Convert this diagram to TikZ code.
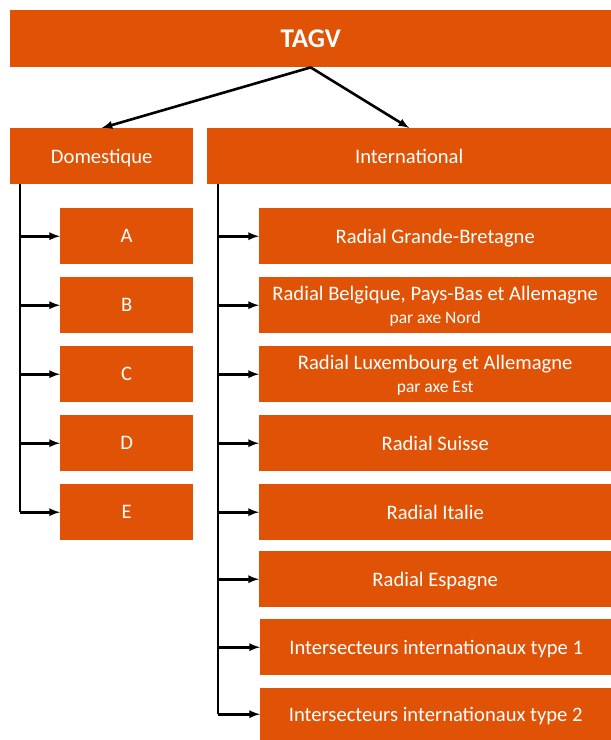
\documentclass[tikz,border=0pt]{standalone}
\usepackage{fontspec}
\setmainfont{Carlito}
\definecolor{TagvOrange}{RGB}{224,83,6}
\usetikzlibrary{positioning,arrows}
\tikzset{>=latex}
\tikzset{catbox/.style={fill=TagvOrange,text=white,inner sep=0pt,text depth=0pt,align=center,anchor=north west,font=\fontsize{20.6}{23}\selectfont}}
\tikzset{domnode/.style={catbox,minimum width=133,minimum height=56}}
\tikzset{intnode/.style={catbox,minimum width=352,minimum height=56}}
\tikzset{twolines/.style={text depth=-5pt}}
\tikzset{links/.style={line width=2.6pt,black}}
\newcommand{\subline}[1]{\\[0pt]{\fontsize{17.5}{19}\selectfont #1}}

\begin{document}
\begin{tikzpicture}[x=1pt,y=-1pt]
    \useasboundingbox (0,0) rectangle (611,740);

    \node[catbox, minimum width=601, minimum height=57, font=\bfseries\fontsize{27}{30}\selectfont] (tagv) at (10,10) {TAGV};
    \node[catbox, minimum width=183, minimum height=56] (dom) at (10,128) {Domestique};
    \node[catbox, minimum width=404, minimum height=56] (intl) at (207,128) {International};

    % domestique
    \foreach \n/\y in {A/208, B/277, C/346, D/415, E/484} {
        \node[domnode] (\n) at (60,\y) {\n};
    }

    % international
    \node[intnode] (gb) at (259,208) {Radial Grande-Bretagne};
    \node[intnode,twolines] (bel) at (259,277) {Radial Belgique, Pays-Bas et Allemagne\subline{par axe Nord}};
    \node[intnode,twolines] (lux) at (259,346) {Radial Luxembourg et Allemagne\subline{par axe Est}};
    \node[intnode] (sui) at (259,415) {Radial Suisse};
    \node[intnode] (ita) at (259,484) {Radial Italie};
    \node[intnode] (esp) at (259,551) {Radial Espagne};
    \node[intnode] (it1) at (260,619) {Intersecteurs internationaux type 1};
    \node[intnode, minimum width=351, minimum height=52] (it2) at (260,688) {Intersecteurs internationaux type 2};

    \draw[links,->] (tagv.south) -- (dom.north);
    \draw[links,->] (tagv.south) -- (intl.north);

    \coordinate (dtop) at (20,184);
    \coordinate (itop) at (218,184);
    \draw[links] (dtop) -- (dtop |- E.west);
    \draw[links] (itop) -- (itop |- it2.west);
    \foreach \n in {A,B,C,D,E} {
        \draw[links,->] (dtop |- \n.west) -- (\n.west);
    }
    \foreach \n in {gb,bel,lux,sui,ita,esp,it1,it2} {
        \draw[links,->] (itop |- \n.west) -- (\n.west);
    }
\end{tikzpicture}
\end{document}
